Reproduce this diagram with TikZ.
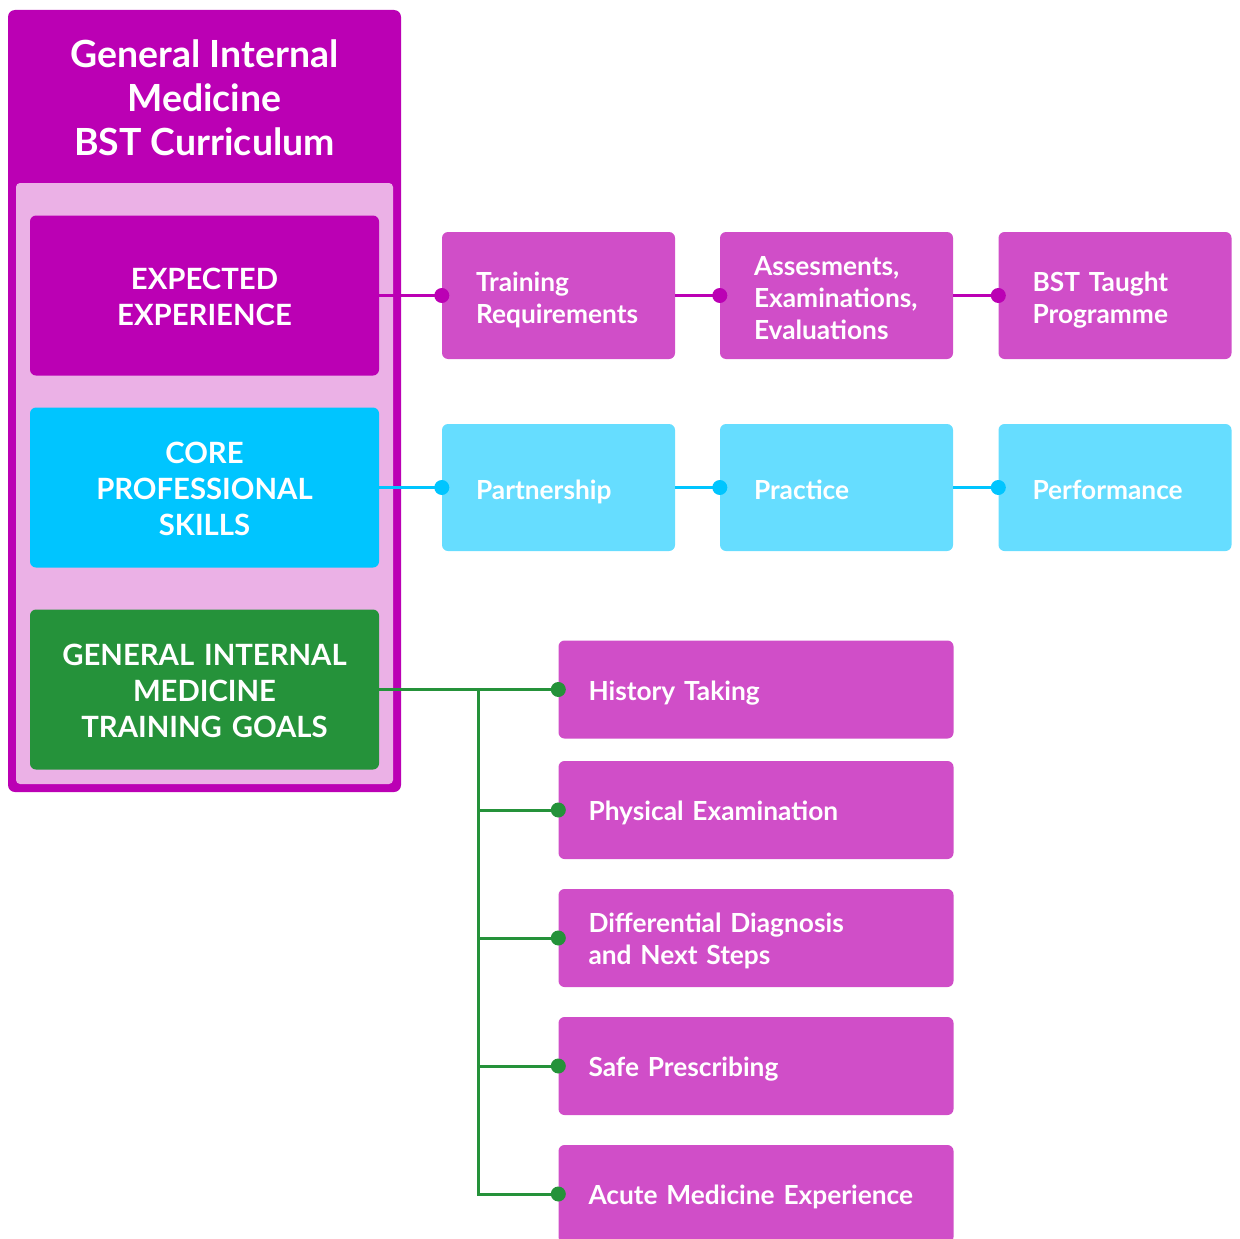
\documentclass[tikz,border=0pt]{standalone}
\usepackage{fontspec}
\setmainfont{Lato}
\usetikzlibrary{positioning}
\definecolor{gimpurple}{HTML}{BB00B4}
\definecolor{panelpink}{HTML}{EBB1E6}
\definecolor{itempurple}{HTML}{D04EC8}
\definecolor{skillcyan}{HTML}{00C5FF}
\definecolor{itemcyan}{HTML}{66DDFF}
\definecolor{gimgreen}{HTML}{25923A}
\tikzstyle{mainbox}=[rectangle,rounded corners=6pt,text width=349pt,minimum height=160pt,inner sep=0pt,text=white,align=center,font=\fontsize{29.3}{36}\selectfont\bfseries,execute at begin node={\rule{0pt}{30pt}},execute at end node={\rule[-7pt]{0pt}{0pt}}]
\tikzstyle{rowbox}=[rectangle,rounded corners=6pt,minimum height=127pt,text width=165pt,inner xsep=34pt,inner ysep=0pt,align=left,text=white,font=\fontsize{26.3}{32}\selectfont\bfseries,execute at begin node={\rule{0pt}{29.5pt}},execute at end node={\rule[-6pt]{0pt}{0pt}}]
\tikzstyle{listbox}=[rectangle,rounded corners=6pt,fill=itempurple,minimum height=98pt,text width=335pt,inner xsep=30pt,inner ysep=0pt,align=left,text=white,font=\fontsize{26.3}{32}\selectfont\bfseries,execute at begin node={\rule{0pt}{27.6pt}},execute at end node={\rule[-6pt]{0pt}{0pt}}]
\tikzstyle{dot}=[circle,inner sep=0pt,minimum size=15pt]
\tikzstyle{link}=[draw,line width=3pt]

\begin{document}
\begin{tikzpicture}[x=1pt,y=-1pt]

    \useasboundingbox (0,0) rectangle (1240,1239);
    \clip (0,0) rectangle (1240,1239);

    % left column
    \node[rectangle, rounded corners=7pt, fill=gimpurple, minimum width=393pt, minimum height=782pt] (frame) at (204.5,401) {};
    \node[rectangle, rounded corners=4pt, fill=panelpink, minimum width=377pt, minimum height=601pt] (panel) at (204.5,483.5) {};
    \node[text=white, align=center, font=\fontsize{37.4}{44}\selectfont\bfseries] (title) at (204.5,98) {General Internal\\Medicine\\BST Curriculum};

    \node[mainbox, fill=gimpurple] (exp) at (204.5,295.5) {EXPECTED\\EXPERIENCE};
    \node[mainbox, fill=skillcyan] (core) at (204.5,487.5) {CORE\\PROFESSIONAL\\SKILLS};
    \node[mainbox, fill=gimgreen] (gim) at (204.5,689.5) {GENERAL INTERNAL\\MEDICINE\\TRAINING GOALS};

    % first row
    \foreach \x/\name/\txt in {558.5/tr/{Training\\Requirements}, 836.5/ae/{Assesments,\\Examinations,\\Evaluations}, 1115/bt/{BST Taught\\Programme}}
        \node[rowbox, fill=itempurple] (\name) at (\x,295.5) {\txt};

    % second row
    \foreach \x/\name/\txt in {558.5/pa/Partnership, 836.5/pr/Practice, 1115/pe/Performance}
        \node[rowbox, fill=itemcyan] (\name) at (\x,487.5) {\txt};

    % goals
    \foreach \y/\name/\txt in {689.5/ht/History Taking, 810/px/Physical Examination, 938/dd/{Differential Diagnosis\\and Next Steps}, 1066/sp/Safe Prescribing, 1194/am/Acute Medicine Experience}
        \node[listbox] (\name) at (756,\y) {\txt};

    \foreach \source/\dest in {exp/tr, tr/ae, ae/bt}
    {
        \path[link, gimpurple] (\source.east) -- (\dest.west);
        \node[dot, fill=gimpurple] (dot-\dest) at (\dest.west) {};
    }

    \foreach \source/\dest in {core/pa, pa/pr, pr/pe}
    {
        \path[link, skillcyan] (\source.east) -- (\dest.west);
        \node[dot, fill=skillcyan] (dot-\dest) at (\dest.west) {};
    }

    \coordinate (trunk) at (478,689.5);
    \path[link, gimgreen] (gim.east) -- (ht.west);
    \path[link, gimgreen] (trunk) |- (am.west);
    \foreach \dest in {px, dd, sp}
        \path[link, gimgreen] (trunk |- \dest.west) -- (\dest.west);
    \foreach \dest in {ht, px, dd, sp, am}
        \node[dot, fill=gimgreen] (dot-\dest) at (\dest.west) {};

\end{tikzpicture}
\end{document}
